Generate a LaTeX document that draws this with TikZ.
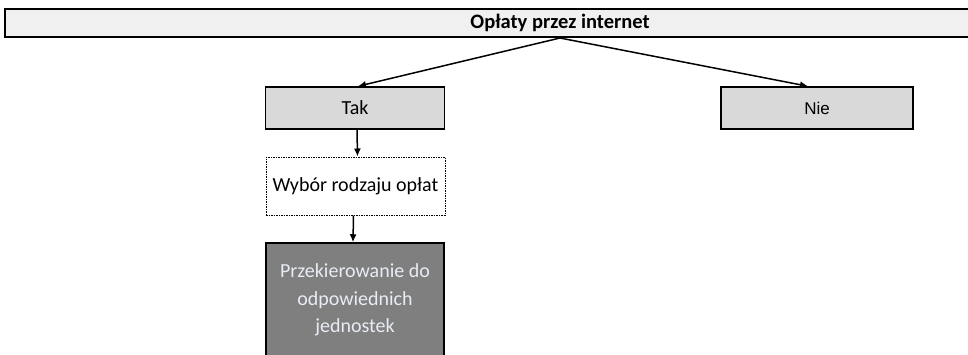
\documentclass[tikz,border=0pt]{standalone}
\usepackage{fontspec}
\setmainfont{Carlito}
\newfontfamily\arialf{Liberation Sans}
\usetikzlibrary{arrows.meta}
\definecolor{topfill}{HTML}{F0F0F0}
\definecolor{boxfill}{HTML}{D9D9D9}
\definecolor{darkfill}{HTML}{7F7F7F}
\definecolor{lighttext}{HTML}{E8ECF4}
\tikzset{
  box/.style={draw=black, line width=1.5pt, fill=boxfill, inner sep=0pt, align=center},
  conn/.style={draw=black, line width=1.5pt, -{Latex[length=8pt,width=7pt]}},
}
\begin{document}
\begin{tikzpicture}[x=1pt,y=-1pt]
\useasboundingbox[fill=white] (0,0) rectangle (968,354);
\node[box, fill=topfill, line width=2pt, minimum width=1110pt, minimum height=28pt, font=\bfseries\fontsize{20.5}{24}\selectfont] (top) at (560,23) {Opłaty przez internet};
\node[box, minimum width=179pt, minimum height=42pt, font=\fontsize{20}{24}\selectfont] (tak) at (355,108) {Tak};
\node[box, minimum width=192pt, minimum height=42pt, font=\arialf\fontsize{17}{20}\selectfont] (nie) at (817,108) {Nie};
\node[box, fill=white, densely dotted, line width=1pt, minimum width=179pt, minimum height=58pt, font=\fontsize{20}{24}\selectfont] (wyb) at (355.5,186) {Wybór rodzaju opłat};
\node[box, fill=darkfill, text=lighttext, minimum width=178pt, minimum height=114pt, font=\fontsize{20}{27.5}\selectfont] (prz) at (355,300) {Przekierowanie do\\odpowiednich\\jednostek};
\draw[conn] (top.south) -- ([xshift=3pt]tak.north);
\draw[conn] (top.south) -- ([xshift=-9pt]nie.north);
\draw[conn] ([xshift=2pt]tak.south) -- ([xshift=2pt]wyb.north);
\draw[conn] ([xshift=-2pt]wyb.south) -- ([xshift=-2pt]prz.north);
\end{tikzpicture}
\end{document}
